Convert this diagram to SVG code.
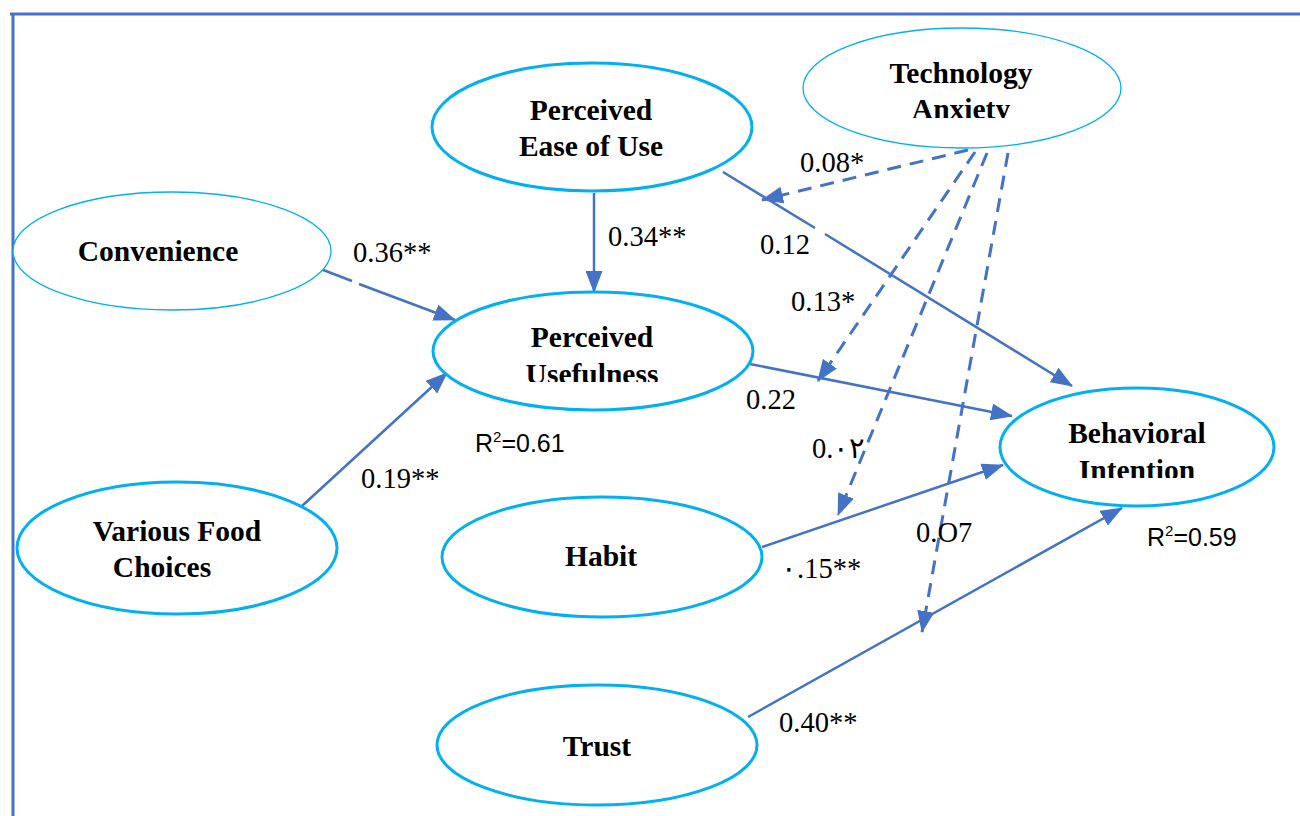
<svg xmlns="http://www.w3.org/2000/svg" width="1300" height="816" viewBox="0 0 1300 816">
<style>
.node{fill:#fff;stroke:#00B0F0;stroke-width:3}
.thin{stroke-width:1.3}
.nt{font-family:"Liberation Serif","Times New Roman",serif;font-weight:bold;font-size:29.5px;fill:#000;text-anchor:middle}
.lbl{font-family:"Liberation Serif","Times New Roman",serif;font-size:28.5px;fill:#000}
.r2{font-family:"Liberation Sans",Arial,sans-serif;font-size:25px;fill:#000}
.e{fill:none;stroke:#4472C4;stroke-width:2.5}
.d{fill:none;stroke:#4472C4;stroke-width:3;stroke-dasharray:14 9}
.frame{stroke:#4472C4;stroke-width:3;fill:none}
</style>
<defs>
<marker id="ah" viewBox="0 0 22 17" refX="21" refY="8.5" markerWidth="22" markerHeight="17" markerUnits="userSpaceOnUse" orient="auto">
<path d="M0,0 L22,8.5 L0,17 z" fill="#4472C4"/>
</marker>
<clipPath id="cTA"><rect x="800" y="20" width="330" height="98"/></clipPath>
<clipPath id="cPU"><rect x="430" y="300" width="330" height="82"/></clipPath>
<clipPath id="cBI"><rect x="1000" y="400" width="280" height="78"/></clipPath>
</defs>
<g id="frame">
<line class="frame" x1="10" y1="14" x2="1300" y2="14"/>
<line class="frame" x1="13" y1="14" x2="13" y2="816"/>
</g>
<g id="connectors">
<polyline class="e" points="318,268 352,281"/>
<line class="e" x1="359" y1="284" x2="455" y2="320" marker-end="url(#ah)"/>
<line class="e" x1="594" y1="193" x2="594" y2="292" marker-end="url(#ah)"/>
<line class="e" x1="302" y1="506" x2="447" y2="373" marker-end="url(#ah)"/>
<polyline class="e" points="723,172 815,228"/>
<line class="e" x1="825" y1="234" x2="1072" y2="386" marker-end="url(#ah)"/>
<line class="e" x1="750" y1="364" x2="1012" y2="416" marker-end="url(#ah)"/>
<line class="e" x1="762" y1="547" x2="1003" y2="465" marker-end="url(#ah)"/>
<line class="e" x1="748" y1="717" x2="1122" y2="508" marker-end="url(#ah)"/>
<line class="d" x1="968" y1="150" x2="762" y2="200" marker-end="url(#ah)"/>
<line class="d" x1="975" y1="152" x2="818" y2="381" marker-end="url(#ah)"/>
<line class="d" x1="987" y1="153" x2="838" y2="515" marker-end="url(#ah)"/>
<line class="d" x1="1008" y1="153" x2="922" y2="632" marker-end="url(#ah)"/>
</g>
<g id="peou">
<ellipse class="node" cx="592" cy="127" rx="160" ry="64"/>
<text class="nt" x="591" y="120">Perceived</text>
<text class="nt" x="591" y="156">Ease of Use</text>
</g>
<g id="ta">
<ellipse class="node thin" cx="962" cy="88" rx="159" ry="60"/>
<g clip-path="url(#cTA)">
<text class="nt" x="961" y="83">Technology</text>
<text class="nt" x="961" y="119">Anxiety</text>
</g>
</g>
<g id="conv">
<ellipse class="node thin" cx="172" cy="251" rx="159" ry="59"/>
<text class="nt" x="158" y="261">Convenience</text>
</g>
<g id="pu">
<ellipse class="node" cx="593" cy="351" rx="160" ry="59"/>
<text class="nt" x="592" y="347">Perceived</text>
<g clip-path="url(#cPU)"><text class="nt" x="592" y="384">Usefulness</text></g>
</g>
<g id="bi">
<ellipse class="node" cx="1137" cy="447" rx="137" ry="59"/>
<text class="nt" x="1137" y="443">Behavioral</text>
<g clip-path="url(#cBI)"><text class="nt" x="1137" y="480">Intention</text></g>
</g>
<g id="vfc">
<ellipse class="node" cx="177" cy="548" rx="160" ry="66"/>
<text class="nt" x="177" y="541">Various Food</text>
<text class="nt" x="162" y="577">Choices</text>
</g>
<g id="habit">
<ellipse class="node" cx="602" cy="557" rx="160" ry="60"/>
<text class="nt" x="601" y="566">Habit</text>
</g>
<g id="trust">
<ellipse class="node" cx="597" cy="745" rx="160" ry="60"/>
<text class="nt" x="597" y="756">Trust</text>
</g>
<g id="labels">
<text class="lbl" x="800" y="172">0.08*</text>
<text class="lbl" x="760" y="254">0.12</text>
<text class="lbl" x="353" y="262">0.36**</text>
<text class="lbl" x="608" y="246">0.34**</text>
<text class="lbl" x="791" y="311">0.13*</text>
<text class="lbl" x="746" y="409">0.22</text>
<text class="lbl" x="812" y="458">0.&#x0660;&#x0662;</text>
<text class="lbl" x="781" y="578">&#x0660;.15**</text>
<text class="lbl" x="916" y="542">0.O7</text>
<text class="lbl" x="361" y="488">0.19**</text>
<text class="lbl" x="779" y="732">0.40**</text>
<text class="r2" x="475" y="452">R<tspan font-size="15" dy="-10">2</tspan><tspan dy="10">=0.61</tspan></text>
<text class="r2" x="1147" y="546">R<tspan font-size="15" dy="-10">2</tspan><tspan dy="10">=0.59</tspan></text>
</g>
</svg>
